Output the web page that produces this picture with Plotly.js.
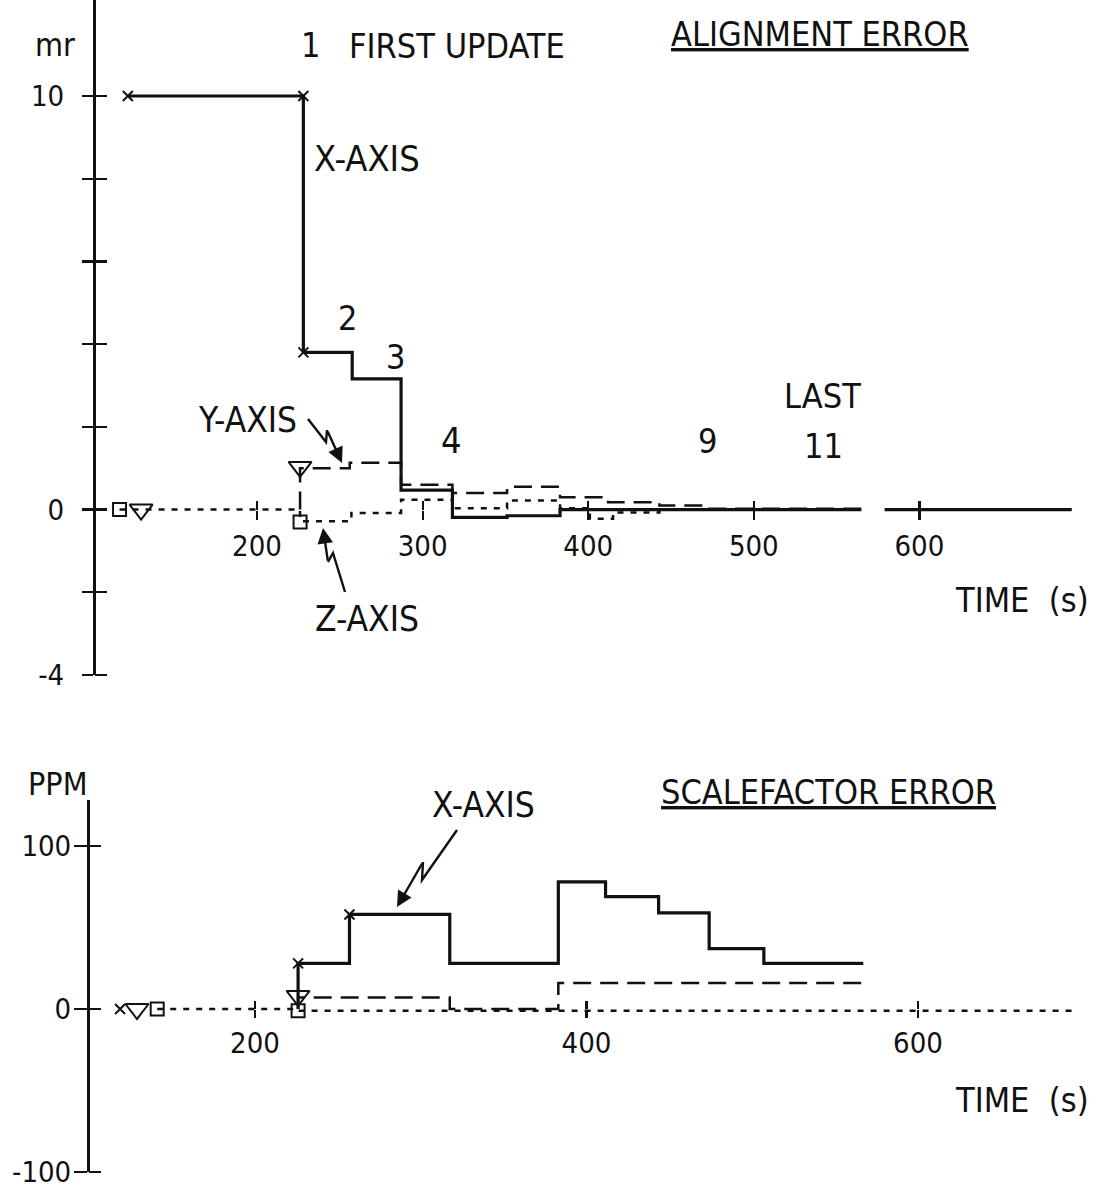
<!DOCTYPE html>
<html><head><meta charset="utf-8">
<script src="https://cdn.plot.ly/plotly-3.0.1.min.js"></script>
<style>html,body{margin:0;padding:0;background:#fff}#chart{width:1094px;height:1193px}</style>
</head><body><div id="chart"></div>
<script>
// ---------- ALIGNMENT ERROR (mr) vs TIME (s) ----------
const alignXTime = [122, 228, 257.5, 287, 318, 351, 383, 565, null, 579, 692];
const alignXVal  = [10, 3.8, 3.16, 0.47, -0.19, -0.15, 0, 0, null, 0, 0];
const alignXMarkTime = [122, 228, 228];
const alignXMarkVal  = [10, 10, 3.8];

const alignYTime = [226, 226, 256, 287, 318, 351, 383, 412, 443, 470, 565];
const alignYVal  = [0, 1.0, 1.13, 0.6, 0.4, 0.55, 0.3, 0.18, 0.1, 0.02, 0.02];
const alignYMarkTime = [130, 226];
const alignYMarkVal  = [0, 1.03];

const alignZTime = [117, 226, 226, 257, 287, 318, 351, 383, 401, 415, 443, 565];
const alignZVal  = [0, 0, -0.28, -0.08, 0.24, 0.03, 0.22, 0.03, -0.22, -0.07, 0, 0];
const alignZMarkTime = [117, 226];
const alignZMarkVal  = [0, -0.3];

const alignYTickVals = [-4, -2, 0, 2, 4, 6, 8, 10];
const alignYTickText = ['-4', '', '0', '', '', '', '', '10'];
const alignXTickVals = [200, 300, 400, 500, 600];

// ---------- SCALEFACTOR ERROR (PPM) vs TIME (s) ----------
const scaleXTime = [226, 226, 257, 317.5, 383, 411.5, 443.5, 474, 507, 567];
const scaleXVal  = [0, 28, 58, 28, 78, 69, 59, 37, 28, 28];
const scaleXMarkTime = [118.6, 226, 257];
const scaleXMarkVal  = [0, 28, 58];

const scaleYTime = [226, 226, 317.5, 383, 567];
const scaleYVal  = [0, 7, 0, 16, 16];
const scaleYMarkTime = [128.8, 226];
const scaleYMarkVal  = [0, 8];

const scaleZTime = [141, 226, 226, 694];
const scaleZVal  = [0, 0, -1, -1];
const scaleZMarkTime = [141, 226];
const scaleZMarkVal  = [0, -1];

const scaleYTickVals = [-100, 0, 100];
const scaleXTickVals = [200, 400, 600];

// ---------- layout helpers ----------
const W = 1094, H = 1193;
const px = x => x / W;
const py = y => 1 - y / H;
const INK = '#111';
const FONT = '"Liberation Sans Narrow", "Arial Narrow", "DejaVu Sans Condensed", "Liberation Sans", sans-serif';

function lineTrace(x, y, xa, ya, width, dash) {
  return {x, y, xaxis: xa, yaxis: ya, mode: 'lines', connectgaps: false, hoverinfo: 'skip', showlegend: false,
    line: {shape: 'hv', color: INK, width, dash: dash || 'solid'}};
}
function markTrace(x, y, xa, ya, symbol, size) {
  return {x, y, xaxis: xa, yaxis: ya, mode: 'markers', cliponaxis: false, hoverinfo: 'skip', showlegend: false,
    marker: {symbol, size, color: INK, line: {color: INK, width: 2}}};
}
// invisible carrier so that the mirrored tick axes get a subplot
function carrier(xvals, xa, ya) {
  return {x: xvals, y: xvals.map(() => null), xaxis: xa, yaxis: ya, mode: 'markers', hoverinfo: 'skip',
    showlegend: false, marker: {opacity: 0}};
}

const DASH = '18px,9px';
const DOT = '6px,7px';
const data = [
  lineTrace(alignZTime, alignZVal, 'x', 'y', 2.5, DOT),
  lineTrace(alignYTime, alignYVal, 'x', 'y', 2.5, DASH),
  lineTrace(alignXTime, alignXVal, 'x', 'y', 3.2),
  markTrace(alignXMarkTime, alignXMarkVal, 'x', 'y', 'x-thin-open', 10),
  markTrace(alignYMarkTime, alignYMarkVal, 'x', 'y', 'triangle-down-open', 20),
  markTrace(alignZMarkTime, alignZMarkVal, 'x', 'y', 'square-open', 13),

  lineTrace(scaleZTime, scaleZVal, 'x2', 'y2', 2.5, DOT),
  lineTrace(scaleYTime, scaleYVal, 'x2', 'y2', 2.5, DASH),
  lineTrace(scaleXTime, scaleXVal, 'x2', 'y2', 3.2),
  markTrace(scaleXMarkTime, scaleXMarkVal, 'x2', 'y2', 'x-thin-open', 10),
  markTrace(scaleYMarkTime, scaleYMarkVal, 'x2', 'y2', 'triangle-down-open', 20),
  markTrace(scaleZMarkTime, scaleZMarkVal, 'x2', 'y2', 'square-open', 13),

  carrier(alignXTickVals, 'x3', 'y3'),
  carrier(scaleXTickVals, 'x4', 'y4')
];

// pixel calibration of the drawing
const topXRange = [200 - 257 / 1.656, 200 + (W - 257) / 1.656];
const botXRange = [200 - 255 / 1.6575, 200 + (W - 255) / 1.6575];
const topYRange = [-4, 10 + 96 / 41.36];
const botYRange = [-100, -100 + (1172 - 800) / 1.63];
const topZeroY = 675 - 4 * 41.36;
const botZeroY = 1172 - 100 * 1.63;

const tickFont = {family: FONT, size: 29, color: INK};
function xAxis(range, pos, vals, side, labels, len, standoff) {
  return {domain: [0, 1], range, anchor: 'free', position: py(pos), side, showline: false, zeroline: false, showgrid: false,
    ticks: 'outside', tickvals: vals, ticktext: vals.map(String), ticklen: len, tickwidth: 2.2, tickcolor: INK,
    showticklabels: labels, tickfont: tickFont, ticklabelstandoff: standoff, automargin: false, fixedrange: true};
}
function yAxis(range, dom, pos, vals, text, side, labels, len, standoff, line) {
  return {domain: dom, range, anchor: 'free', position: px(pos), side, showline: line, linewidth: 2.6, linecolor: INK,
    zeroline: false, showgrid: false, ticks: 'outside', tickvals: vals, ticktext: text, ticklen: len, tickwidth: 2.2,
    tickcolor: INK, showticklabels: labels, tickfont: tickFont, ticklabelstandoff: standoff, automargin: false, fixedrange: true};
}

const topYDom = [py(675), 1];
const botYDom = [py(1172), py(800)];

const layout = {
  width: W, height: H, margin: {l: 0, r: 0, t: 0, b: 0}, paper_bgcolor: '#fff', plot_bgcolor: 'rgba(0,0,0,0)',
  font: {family: FONT, color: INK},
  showlegend: false,
  xaxis: xAxis(topXRange, topZeroY, alignXTickVals, 'bottom', true, 9, 2),
  xaxis3: Object.assign(xAxis(topXRange, topZeroY, alignXTickVals, 'top', false, 9, 0), {overlaying: 'x'}),
  yaxis: yAxis(topYRange, topYDom, 94, alignYTickVals, alignYTickText, 'left', true, 11, 12, true),
  yaxis3: Object.assign(yAxis(topYRange, topYDom, 94, alignYTickVals, alignYTickText, 'right', false, 12, 0, false), {overlaying: 'y'}),
  xaxis2: xAxis(botXRange, botZeroY, scaleXTickVals, 'bottom', true, 8, 0),
  xaxis4: Object.assign(xAxis(botXRange, botZeroY, scaleXTickVals, 'top', false, 8, 0), {overlaying: 'x2'}),
  yaxis2: yAxis(botYRange, botYDom, 88, scaleYTickVals, scaleYTickVals.map(String), 'left', true, 13, -3, true),
  yaxis4: Object.assign(yAxis(botYRange, botYDom, 88, scaleYTickVals, scaleYTickVals.map(String), 'right', false, 12, 0, false), {overlaying: 'y2'}),
  annotations: [],
  shapes: []
};

function label(text, x, y, size) {
  return {text, x: px(x), y: py(y), xref: 'paper', yref: 'paper', showarrow: false, xanchor: 'center', yanchor: 'middle',
    font: {family: FONT, size: size || 34, color: INK}};
}
layout.annotations.push(
  label('mr', 55, 45, 32),
  label('1', 310, 45, 34),
  label('FIRST UPDATE', 457, 46, 34),
  label('<u>ALIGNMENT ERROR</u>', 820, 34, 34),
  label('X-AXIS', 367, 158, 36),
  label('2', 347, 318, 34),
  label('3', 395, 357, 34),
  label('LAST', 822, 396, 34),
  label('4', 451, 441, 36),
  label('9', 707, 441, 34),
  label('11', 823, 446, 34),
  label('Y-AXIS', 247, 420, 35),
  label('Z-AXIS', 367, 619, 35),
  label('TIME  (s)', 1022, 600, 34),
  label('PPM', 58, 784, 32),
  label('<u>SCALEFACTOR ERROR</u>', 828, 792, 34),
  label('X-AXIS', 483, 805, 35),
  label('TIME  (s)', 1022, 1100, 34)
);

// lightning-style pointers: zigzag body as a path, last leg as an arrow
function pointer(pts) {
  const body = pts.slice(0, -1);
  let d = 'M ' + px(body[0][0]) + ' ' + py(body[0][1]);
  for (let i = 1; i < body.length; i++) d += ' L ' + px(body[i][0]) + ' ' + py(body[i][1]);
  layout.shapes.push({type: 'path', xref: 'paper', yref: 'paper', path: d, line: {color: INK, width: 2.4}});
  const tip = pts[pts.length - 1], prev = pts[pts.length - 2];
  layout.annotations.push({x: px(tip[0]), y: py(tip[1]), xref: 'paper', yref: 'paper', text: '', showarrow: true,
    ax: prev[0] - tip[0], ay: prev[1] - tip[1], axref: 'pixel', ayref: 'pixel',
    arrowhead: 2, arrowsize: 1.3, arrowwidth: 2.4, arrowcolor: INK, standoff: 0, startstandoff: 0});
}
pointer([[308, 419], [326, 442], [327, 430], [342, 463]]);
pointer([[345, 592], [333, 553], [328, 562], [323, 528]]);
pointer([[457, 830], [422, 880], [423, 862], [397, 907]]);

Plotly.newPlot('chart', data, layout, {displayModeBar: false, staticPlot: true});
</script>
</body></html>
